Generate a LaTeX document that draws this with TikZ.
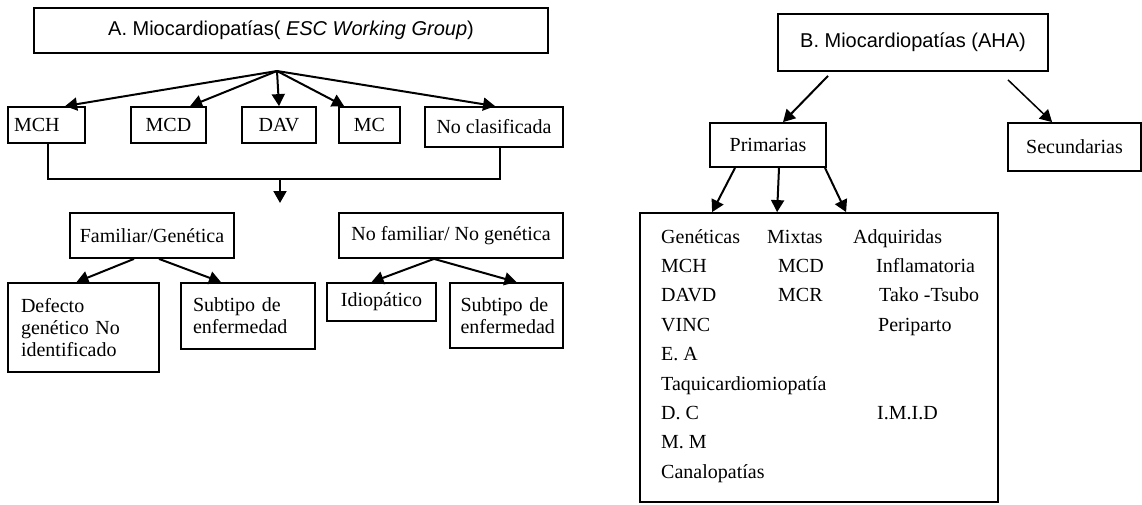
\documentclass[tikz,border=0pt]{standalone}
\usepackage{fontspec}
\setmainfont{Liberation Serif}
\newfontfamily\arialf{Liberation Sans}
\usetikzlibrary{arrows.meta}
\tikzset{
  box/.style={draw, line width=1.8pt, inner sep=0pt, font=\fontsize{20}{22}\selectfont},
  sbox/.style={box, font=\arialf\fontsize{20}{22}\selectfont},
  arr/.style={line width=2pt, -{Triangle[length=12pt,width=13pt]}},
  lnk/.style={line width=1.8pt},
  cell/.style={anchor=base west, inner sep=0pt, font=\fontsize{20}{22}\selectfont}
}
\begin{document}
\begin{tikzpicture}[x=1pt,y=-1pt]
\useasboundingbox (0,0) rectangle (1142,504);
% ---------- Panel A ----------
\node[sbox, minimum width=514pt, minimum height=45pt] (A) at (291,30.5) {A. Miocardiopatías( \textit{ESC Working Group})};
\coordinate (oA) at (277,71);
\node[box, minimum width=77pt, minimum height=36pt, text width=65pt, align=left] (mch) at (46.5,125) {MCH};
\node[box, minimum width=75pt, minimum height=36pt] (mcd) at (168.5,125) {MCD};
\node[box, minimum width=74pt, minimum height=36pt] (dav) at (279,125) {DAV};
\node[box, minimum width=61pt, minimum height=36pt] (mc) at (369.5,125) {MC};
\node[box, minimum width=138pt, minimum height=40pt] (noc) at (494,127) {No clasificada};
\draw[arr] (oA) -- ([xshift=58pt]mch.north west);
\draw[arr] (oA) -- ([xshift=60pt]mcd.north west);
\draw[arr] (oA) -- (dav.north);
\draw[arr] (oA) -- ([xshift=6pt]mc.north west);
\draw[arr] (oA) -- ([xshift=71pt]noc.north west);
\coordinate (brL) at (48,179);
\coordinate (brR) at (500,179);
\coordinate (brM) at (280,179);
\coordinate (brT) at (280,203);
\draw[lnk] ([xshift=1.5pt]mch.south) |- (brL) -- (brR) -- ([xshift=6pt]noc.south);
\draw[arr] (brM) -- (brT);
\node[box, minimum width=164pt, minimum height=45pt] (fam) at (152,235.5) {Familiar/Genética};
\node[box, minimum width=224pt, minimum height=45pt] (nof) at (451,235.5) {No familiar/ No genética};
\node[box, minimum width=151pt, minimum height=89pt, text width=125pt, align=left] (def) at (83.5,327.5) {Defecto\\genético No\\identificado};
\node[box, minimum width=134pt, minimum height=66pt, text width=110pt, align=left] (sub1) at (248,316) {Subtipo de\\enfermedad};
\node[box, minimum width=109pt, minimum height=38pt] (idio) at (381.5,302) {Idiopático};
\node[box, minimum width=113pt, minimum height=65pt, text width=92pt, align=left] (sub2) at (506.5,315.5) {Subtipo de\\enfermedad};
\draw[arr] ([xshift=-18pt]fam.south) -- ([xshift=-7pt]def.north);
\draw[arr] ([xshift=7pt]fam.south) -- ([xshift=-27pt]sub1.north);
\draw[arr] ([xshift=-17pt]nof.south) -- ([xshift=-10pt]idio.north);
\draw[arr] ([xshift=-17pt]nof.south) -- ([xshift=10pt]sub2.north);
% ---------- Panel B ----------
\node[sbox, minimum width=270pt, minimum height=57pt] (B) at (913,42.5) {B. Miocardiopatías (AHA)};
\node[box, minimum width=116pt, minimum height=44pt] (prim) at (768,145) {Primarias};
\node[box, minimum width=133pt, minimum height=48pt] (sec) at (1074.5,147) {Secundarias};
\node[box, minimum width=358pt, minimum height=289pt] (big) at (819,357.5) {};
\draw[arr] ([xshift=-85pt,yshift=-4pt]B.south) -- ([xshift=15pt]prim.north);
\draw[arr, line width=1.5pt] ([xshift=95pt,yshift=-8pt]B.south) -- ([xshift=45pt]sec.north west);
\draw[arr] ([xshift=-33pt]prim.south) -- ([xshift=73pt]big.north west);
\draw[arr] ([xshift=11pt]prim.south) -- ([xshift=138pt]big.north west);
\draw[arr] ([xshift=57pt]prim.south) -- ([xshift=207pt]big.north west);
% contents
\node[cell] (g0) at (661,243) {Genéticas};
\node[cell] (m0) at (767,243) {Mixtas};
\node[cell] (a0) at (853,243) {Adquiridas};
\node[cell] (g1) at (661,272.4) {MCH};
\node[cell] (m1) at (778,272.4) {MCD};
\node[cell] (a1) at (876,272.4) {Inflamatoria};
\node[cell] (g2) at (661,301.8) {DAVD};
\node[cell] (m2) at (778,301.8) {MCR};
\node[cell] (a2) at (879,301.8) {Tako -Tsubo};
\node[cell] (g3) at (661,331.2) {VINC};
\node[cell] (a3) at (878,331.2) {Periparto};
\node[cell] (g4) at (661,360.6) {E. A};
\node[cell] (g5) at (661,390) {Taquicardiomiopatía};
\node[cell] (g6) at (661,419.4) {D. C};
\node[cell] (a6) at (877,419.4) {I.M.I.D};
\node[cell] (g7) at (661,448.8) {M. M};
\node[cell] (g8) at (661,478.2) {Canalopatías};
\end{tikzpicture}
\end{document}
